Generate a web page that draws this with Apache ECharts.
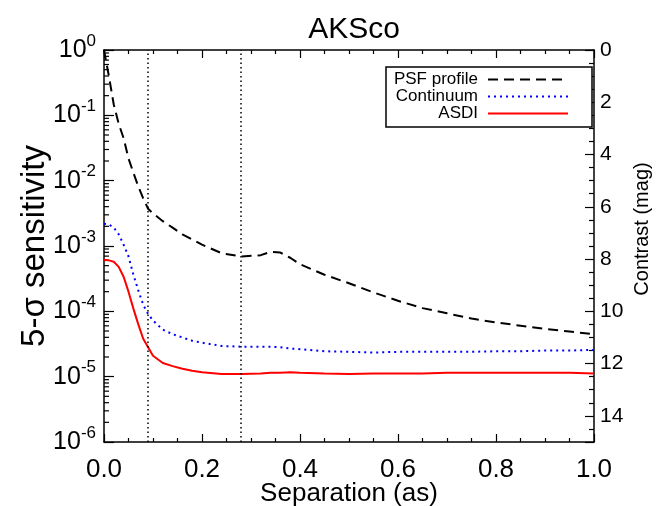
<!DOCTYPE html>
<html>
<head>
<meta charset="utf-8">
<script src="https://cdn.jsdelivr.net/npm/echarts@6/dist/echarts.min.js"></script>
<style>html,body{margin:0;padding:0;background:#fff;}#c{width:663px;height:506px;}</style>
</head>
<body>
<div id="c"></div>
<script>
// ---- data ----
var separation = [0, 0.01, 0.02, 0.03, 0.04, 0.05, 0.06, 0.07, 0.08, 0.09, 0.10, 0.12, 0.14, 0.16, 0.18, 0.20, 0.24, 0.28, 0.32, 0.34, 0.36, 0.38, 0.40, 0.45, 0.50, 0.55, 0.60, 0.65, 0.70, 0.75, 0.80, 0.85, 0.90, 0.95, 1.00];
var psfProfile = [1.0, 0.398, 0.145, 0.0741, 0.0447, 0.0219, 0.0132, 0.00813, 0.00537, 0.00372, 0.00316, 0.00240, 0.00191, 0.00151, 0.00126, 0.00105, 7.76e-4, 6.92e-4, 7.24e-4, 8.13e-4, 7.94e-4, 6.61e-4, 5.25e-4, 3.63e-4, 2.69e-4, 1.95e-4, 1.45e-4, 1.12e-4, 9.33e-5, 7.76e-5, 6.76e-5, 6.03e-5, 5.37e-5, 4.90e-5, 4.47e-5];
var continuum = [2.19e-3, 2.14e-3, 1.91e-3, 1.51e-3, 1.05e-3, 6.92e-4, 3.63e-4, 2.09e-4, 1.26e-4, 9.12e-5, 7.24e-5, 5.25e-5, 4.47e-5, 3.98e-5, 3.55e-5, 3.31e-5, 2.95e-5, 2.88e-5, 2.88e-5, 2.88e-5, 2.82e-5, 2.69e-5, 2.63e-5, 2.45e-5, 2.40e-5, 2.34e-5, 2.40e-5, 2.40e-5, 2.40e-5, 2.40e-5, 2.45e-5, 2.45e-5, 2.51e-5, 2.51e-5, 2.57e-5];
var asdi = [6.17e-4, 6.03e-4, 5.75e-4, 4.79e-4, 3.39e-4, 2.00e-4, 1.10e-4, 6.31e-5, 3.80e-5, 2.82e-5, 2.09e-5, 1.62e-5, 1.45e-5, 1.32e-5, 1.23e-5, 1.17e-5, 1.10e-5, 1.10e-5, 1.12e-5, 1.15e-5, 1.15e-5, 1.17e-5, 1.15e-5, 1.12e-5, 1.10e-5, 1.12e-5, 1.12e-5, 1.12e-5, 1.15e-5, 1.15e-5, 1.15e-5, 1.15e-5, 1.15e-5, 1.15e-5, 1.12e-5];
var markSeparations = [0.09, 0.28];
var seriesNames = ['PSF profile', 'Continuum', 'ASDI'];
var xTickLabels = ['0.0', '0.2', '0.4', '0.6', '0.8', '1.0'];
var contrastTicks = [0, 2, 4, 6, 8, 10, 12, 14];

// minor log ticks (2..9 x 10^k)
var logMinor = [];
for (var k = -6; k < 0; k++) { for (var m = 2; m <= 9; m++) { logMinor.push([0, m * Math.pow(10, k)]); } }

function pairs(ys) { return separation.map(function (x, i) { return [x, ys[i]]; }); }

var FONT = 'Liberation Sans, Arial, Helvetica, sans-serif';
var chart = echarts.init(document.getElementById('c'), null, { renderer: 'canvas' });

var axisLine = { show: true, onZero: false, lineStyle: { color: '#000', width: 1.5 } };

chart.setOption({
  animation: false,
  backgroundColor: '#fff',
  textStyle: { fontFamily: FONT, color: '#000' },
  title: {
    text: 'AKSco', left: 349, top: 10, textAlign: 'center',
    textStyle: { fontFamily: FONT, fontSize: 30, fontWeight: 'normal', color: '#000' }
  },
  grid: { left: 104, right: 69, top: 50, bottom: 64, containLabel: false, outerBoundsMode: 'none' },
  legend: {
    orient: 'vertical', left: 386, top: 67, align: 'right',
    data: seriesNames,
    itemWidth: 80, itemHeight: 12, itemGap: 0,
    padding: [4, 23, 5, 6],
    borderColor: '#000', borderWidth: 1.5, backgroundColor: '#fff',
    itemStyle: { opacity: 0, borderWidth: 0 },
    textStyle: { fontFamily: FONT, fontSize: 17, color: '#000', width: 86, align: 'right', lineHeight: 13, padding: [0, 5, 0, 0] },
    selectedMode: false
  },
  xAxis: [{
    type: 'value', min: 0, max: 1, interval: 0.2, position: 'bottom',
    name: 'Separation (as)', nameLocation: 'middle', nameGap: 39, nameMoveOverlap: false,
    nameTextStyle: { fontFamily: FONT, fontSize: 26, color: '#000' },
    axisLine: axisLine,
    axisTick: { show: true, inside: true, length: 8, lineStyle: { color: '#000', width: 1.2 } },
    minorTick: { show: true, splitNumber: 4, length: 4, lineStyle: { color: '#000', width: 1.2 } },
    splitLine: { show: false },
    axisLabel: { margin: 15, fontSize: 26, color: '#000', fontFamily: FONT,
      formatter: function (v) { return xTickLabels[Math.round(v / 0.2)]; } }
  }, {
    type: 'value', min: 0, max: 1, interval: 0.2, position: 'top',
    axisLine: axisLine,
    axisTick: { show: true, inside: true, length: 8, lineStyle: { color: '#000', width: 1.2 } },
    minorTick: { show: true, splitNumber: 4, length: 4, lineStyle: { color: '#000', width: 1.2 } },
    splitLine: { show: false }, axisLabel: { show: false }
  }],
  yAxis: [{
    type: 'log', logBase: 10, min: 1e-6, max: 1, position: 'left',
    name: '5-σ sensitivity', nameLocation: 'middle', nameGap: 53, nameRotate: 90, nameMoveOverlap: false,
    nameTextStyle: { fontFamily: FONT, fontSize: 33, color: '#000' },
    axisLine: axisLine,
    axisTick: { show: true, inside: true, length: 10, lineStyle: { color: '#000', width: 1.2 } },
    splitLine: { show: false },
    axisLabel: {
      margin: 8, color: '#000', fontFamily: FONT,
      formatter: function (v) {
        var e = Math.round(Math.log(v) / Math.LN10);
        return '{b|10}{s|' + e + '}';
      },
      rich: {
        b: { fontSize: 25, lineHeight: 25, verticalAlign: 'middle', fontFamily: FONT, color: '#000' },
        s: { fontSize: 17, lineHeight: 17, verticalAlign: 'middle', padding: [0, 0, 18, 0], fontFamily: FONT, color: '#000' }
      }
    }
  }, {
    type: 'value', min: 0, max: 15, interval: 2, inverse: true, position: 'right',
    name: 'Contrast (mag)', nameLocation: 'middle', nameGap: 38, nameRotate: 90, nameMoveOverlap: false,
    nameTextStyle: { fontFamily: FONT, fontSize: 20, color: '#000', padding: [0, 0, 0, 34] },
    axisLine: axisLine,
    axisTick: { show: true, inside: true, length: 9, lineStyle: { color: '#000', width: 1.2 } },
    minorTick: { show: true, splitNumber: 4, length: 5, lineStyle: { color: '#000', width: 1.2 } },
    splitLine: { show: false },
    axisLabel: { margin: 6, fontSize: 21, color: '#000', fontFamily: FONT, showMaxLabel: false,
      formatter: function (v) { return contrastTicks.indexOf(v) >= 0 ? String(v) : ''; } }
  }],
  series: [{
    name: seriesNames[0], type: 'line', data: pairs(psfProfile), xAxisIndex: 0, yAxisIndex: 0,
    symbol: 'none', smooth: false, color: '#000',
    lineStyle: { color: '#000', width: 2, type: [10, 6] },
    markLine: {
      silent: true, symbol: ['none', 'none'], label: { show: false },
      lineStyle: { color: '#000', width: 1.5, type: [1.5, 3] },
      data: markSeparations.map(function (s) { return { xAxis: s }; })
    }
  }, {
    name: seriesNames[1], type: 'line', data: pairs(continuum), xAxisIndex: 0, yAxisIndex: 0,
    symbol: 'none', color: '#0000ff',
    lineStyle: { color: '#0000ff', width: 2, type: [2, 4] }
  }, {
    name: seriesNames[2], type: 'line', data: pairs(asdi), xAxisIndex: 0, yAxisIndex: 0,
    symbol: 'none', color: '#ff0000',
    lineStyle: { color: '#ff0000', width: 2 }
  }, {
    type: 'custom', xAxisIndex: 0, yAxisIndex: 0, data: logMinor, silent: true, clip: false,
    renderItem: function (params, api) {
      var p = api.coord([api.value(0), api.value(1)]);
      return { type: 'line', shape: { x1: p[0], y1: p[1], x2: p[0] + 5, y2: p[1] },
        style: { stroke: '#000', lineWidth: 1.2 } };
    }
  }]
});
</script>
</body>
</html>
